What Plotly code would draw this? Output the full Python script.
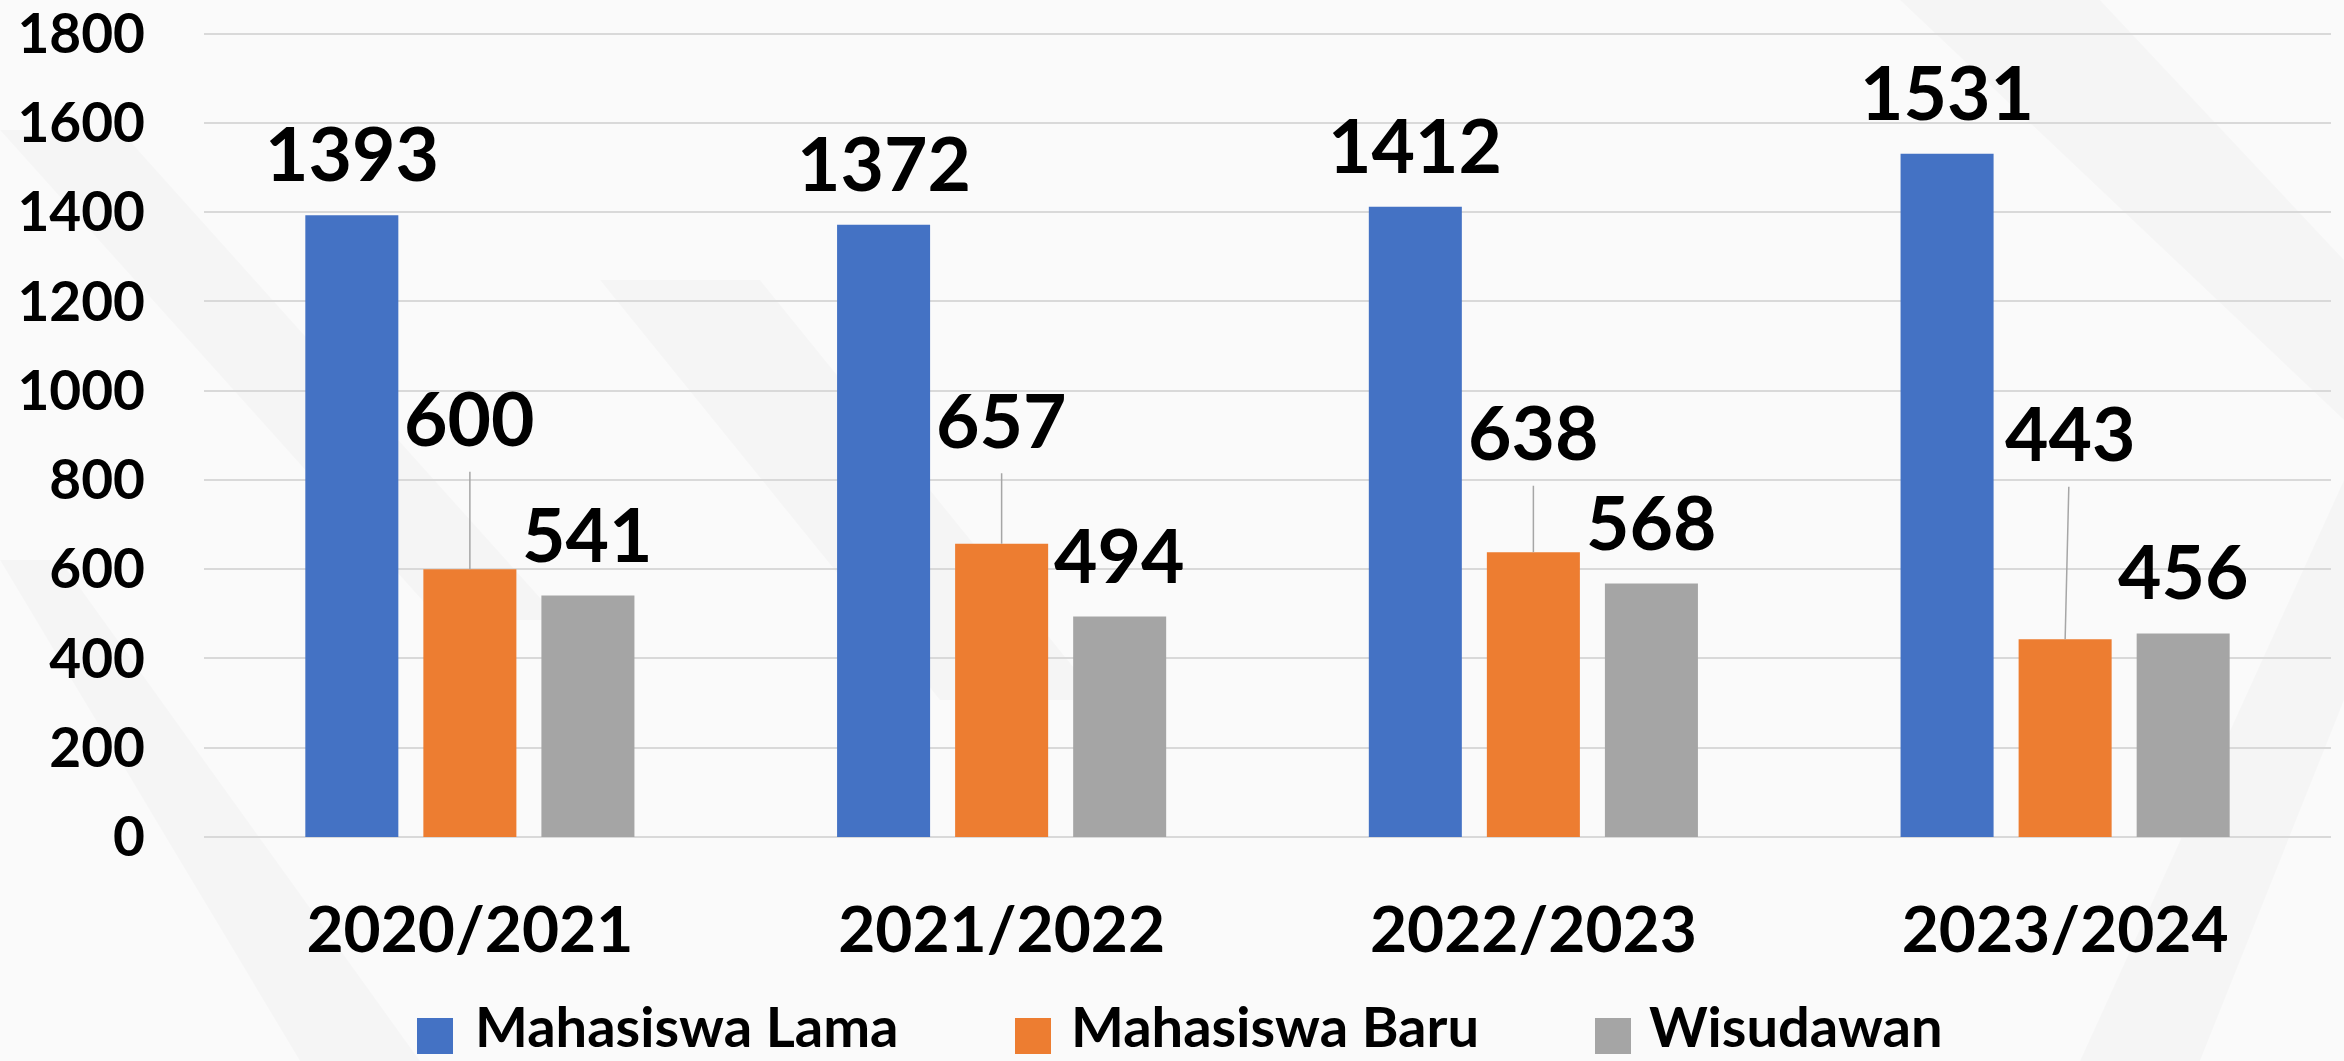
import plotly.graph_objects as go

# ---- data ----
categories = ["2020/2021", "2021/2022", "2022/2023", "2023/2024"]
series_names = ["Mahasiswa Lama", "Mahasiswa Baru", "Wisudawan"]
mahasiswa_lama = [1393, 1372, 1412, 1531]
mahasiswa_baru = [600, 657, 638, 443]
wisudawan = [541, 494, 568, 456]
y_ticks = [0, 200, 400, 600, 800, 1000, 1200, 1400, 1600, 1800]

colors = ["#4472C4", "#ED7D31", "#A5A5A5"]
series_values = [mahasiswa_lama, mahasiswa_baru, wisudawan]

# ---- layout geometry (pixels) ----
W, H = 2344, 1061
ML, MR, MT, MB = 204, 13, 31, 224
PW = W - ML - MR
PH = H - MT - MB
FONT = "Lato, 'Open Sans', sans-serif"

def px_x(px):
    return (px - ML) / PW

def px_y(py):
    return (H - MB - py) / PH

fig = go.Figure()
for name, vals, col in zip(series_names, series_values, colors):
    fig.add_trace(go.Bar(
        x=categories, y=vals, name=name,
        marker=dict(color=col, line=dict(width=0)),
        showlegend=False, hoverinfo="x+y+name",
    ))

slot = PW / len(categories) * (1 - 0.334) / 3.0
label_font = dict(family=FONT, size=75, color="#000000")

annotations = []
# Mahasiswa Lama and Wisudawan labels sit above the bars
for vals, shift in ((mahasiswa_lama, -slot), (wisudawan, slot)):
    for c, v in zip(categories, vals):
        annotations.append(dict(
            x=c, y=v, xref="x", yref="y", text=f"<b>{v}</b>",
            showarrow=False, xanchor="center", yanchor="bottom",
            xshift=shift, yshift=16, font=label_font,
        ))

# Mahasiswa Baru labels are lifted with leader lines
baru_offsets = [(0, -152), (0, -125), (0, -121), (5, -207)]
for c, v, (ax, ay) in zip(categories, mahasiswa_baru, baru_offsets):
    annotations.append(dict(
        x=c, y=v, xref="x", yref="y", text=f"<b>{v}</b>",
        showarrow=True, arrowhead=0, arrowwidth=1.5, arrowcolor="#A6A6A6",
        ax=ax, ay=ay, standoff=0, startstandoff=8, font=label_font,
    ))

# manual legend
legend_items = [(417, 475), (1015, 1071), (1595, 1649)]
shapes = []
# faint diagonal background bands
bg_paths = [
    [(0, 130), (120, 130), (560, 620), (440, 620)],
    [(0, 560), (60, 560), (420, 1061), (300, 1061)],
    [(1900, 0), (2100, 0), (2344, 260), (2344, 420)],
    [(2344, 480), (2344, 700), (2200, 1061), (2080, 1061)],
    [(600, 280), (760, 280), (1100, 700), (940, 700)],
]
for poly in bg_paths:
    path = "M " + " L ".join(f"{px_x(a):.5f},{px_y(b):.5f}" for a, b in poly) + " Z"
    shapes.append(dict(type="path", xref="paper", yref="paper", path=path,
                       fillcolor="rgba(0,0,0,0.02)", line=dict(width=0), layer="below"))

for (sx, tx), name, col in zip(legend_items, series_names, colors):
    shapes.append(dict(type="rect", xref="paper", yref="paper",
                       x0=px_x(sx), x1=px_x(sx + 36), y0=px_y(1054), y1=px_y(1018),
                       fillcolor=col, line=dict(width=0), layer="above"))
    annotations.append(dict(
        x=px_x(tx - 2), y=px_y(1061), xref="paper", yref="paper",
        text=f"<b>{name}</b>", showarrow=False, xanchor="left", yanchor="bottom",
        font=dict(family=FONT, size=56, color="#000000"),
    ))

fig.update_layout(
    width=W, height=H,
    margin=dict(l=ML, r=MR, t=MT, b=MB, pad=0, autoexpand=False),
    paper_bgcolor="#FAFAFA", plot_bgcolor="rgba(0,0,0,0)",
    barmode="group", bargap=0.334, bargroupgap=0.212,
    showlegend=False,
    annotations=annotations, shapes=shapes,
    font=dict(family=FONT, color="#000000"),
    xaxis=dict(
        type="category", showgrid=False, showline=False, zeroline=False,
        ticks="", tickfont=dict(family=FONT, size=64, color="#000000"),
        tickprefix="<b>", ticksuffix="</b>", ticklabelstandoff=50,
        automargin=False,
    ),
    yaxis=dict(
        range=[0, 1806], tickvals=y_ticks, ticktext=[f"<b>{t}</b>" for t in y_ticks],
        showgrid=True, gridcolor="#D9D9D9", gridwidth=1.5,
        zeroline=True, zerolinecolor="#D9D9D9", zerolinewidth=1.5,
        showline=False, ticks="",
        tickfont=dict(family=FONT, size=55, color="#000000"),
        ticklabelstandoff=58, ticklabeloverflow="allow", automargin=False,
    ),
)

fig.write_html("out.html")
